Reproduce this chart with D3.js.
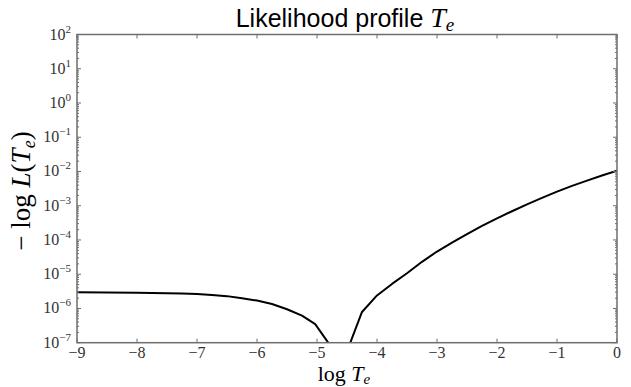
<!DOCTYPE html>
<html><head><meta charset="utf-8">
<script src="https://cdn.jsdelivr.net/npm/d3@7"></script>
<style>body{margin:0;background:#fff}</style></head>
<body>
<svg id="c" width="631" height="387" xmlns="http://www.w3.org/2000/svg"></svg>
<script>
// data
const logTe = [-9, -8.5, -8, -7.5, -7.25, -7, -6.75, -6.5, -6.25, -6, -5.75, -5.5, -5.25, -5.03, -4.8, -4.6, -4.45, -4.25, -4.0, -3.75, -3.5, -3.25, -3.0, -2.75, -2.5, -2.25, -2.0, -1.75, -1.5, -1.25, -1.0, -0.75, -0.5, -0.25, 0];
const negLogL = [2.95e-6, 2.93e-6, 2.88e-6, 2.80e-6, 2.72e-6, 2.63e-6, 2.48e-6, 2.29e-6, 2.0e-6, 1.70e-6, 1.35e-6, 9.5e-7, 6.2e-7, 3.5e-7, 9.3e-8, 1e-8, 9.5e-8, 7.9e-7, 2.4e-6, 5.2e-6, 1.07e-5, 2.3e-5, 4.6e-5, 8.3e-5, 1.48e-4, 2.57e-4, 4.27e-4, 6.9e-4, 1.10e-3, 1.70e-3, 2.57e-3, 3.8e-3, 5.4e-3, 7.6e-3, 1.05e-2];
const xTicks = [-9, -8, -7, -6, -5, -4, -3, -2, -1, 0];
const yTickExps = [-7, -6, -5, -4, -3, -2, -1, 0, 1, 2];

const L = 77, R = 617, T = 34.5, B = 342.7;
const svg = d3.select("#c");
const x = d3.scaleLinear().domain([-9, 0]).range([L, R]);
const y = d3.scaleLog().domain([1e-7, 1e2]).range([B, T]);
const axisCol = "#6e6e6e";
const serif = "'Liberation Serif', 'DejaVu Serif', serif";

svg.append("defs").append("clipPath").attr("id", "clip")
  .append("rect").attr("x", L).attr("y", T).attr("width", R - L).attr("height", B - T);

// curve
const pts = logTe.map((v, i) => [v, negLogL[i]]);
svg.append("path").datum(pts)
  .attr("clip-path", "url(#clip)")
  .attr("fill", "none").attr("stroke", "#000").attr("stroke-width", 2)
  .attr("stroke-linejoin", "round")
  .attr("d", d3.line().x(d => x(d[0])).y(d => y(d[1])));

// ticks (inward, all four sides)
const g = svg.append("g").attr("stroke", axisCol).attr("stroke-width", 1);
xTicks.forEach(t => {
  g.append("line").attr("x1", x(t)).attr("x2", x(t)).attr("y1", B).attr("y2", B - 4);
  g.append("line").attr("x1", x(t)).attr("x2", x(t)).attr("y1", T).attr("y2", T + 4);
});
yTickExps.forEach(e => {
  const yy = y(Math.pow(10, e));
  g.append("line").attr("x1", L).attr("x2", L + 4).attr("y1", yy).attr("y2", yy);
  g.append("line").attr("x1", R).attr("x2", R - 4).attr("y1", yy).attr("y2", yy);
  if (e < 2) {
    for (let m = 2; m <= 9; m++) {
      const ym = y(m * Math.pow(10, e));
      g.append("line").attr("x1", L).attr("x2", L + 2).attr("y1", ym).attr("y2", ym);
      g.append("line").attr("x1", R).attr("x2", R - 2).attr("y1", ym).attr("y2", ym);
    }
  }
});

// frame
svg.append("rect").attr("x", L).attr("y", T).attr("width", R - L).attr("height", B - T)
  .attr("fill", "none").attr("stroke", axisCol).attr("stroke-width", 1.5);

// x tick labels
xTicks.forEach(t => {
  svg.append("text").attr("x", x(t)).attr("y", B + 15.5)
    .attr("text-anchor", "middle").attr("font-family", serif).attr("font-size", 16)
    .attr("fill", "#333")
    .text(t < 0 ? "\u2212" + Math.abs(t) : String(t));
});

// y tick labels
yTickExps.forEach(e => {
  const yy = y(Math.pow(10, e));
  const tx = svg.append("text").attr("x", 71).attr("y", yy + 5)
    .attr("text-anchor", "end").attr("font-family", serif).attr("font-size", 16).attr("fill", "#333");
  tx.append("tspan").text("10");
  tx.append("tspan").attr("dy", -7).attr("font-size", 11)
    .text(e < 0 ? "\u2212" + Math.abs(e) : String(e));
});

// title
const title = svg.append("text").attr("x", 345).attr("y", 27).attr("text-anchor", "middle")
  .attr("font-family", "'Liberation Sans', Arial, sans-serif").attr("font-size", 25).attr("fill", "#000");
title.append("tspan").text("Likelihood profile ");
title.append("tspan").attr("font-family", serif).attr("font-style", "italic").attr("font-size", 28).text("T");
title.append("tspan").attr("font-family", serif).attr("font-style", "italic").attr("font-size", 19).attr("dy", 4).text("e");

// x label
const xl = svg.append("text").attr("x", 344).attr("y", 381).attr("text-anchor", "middle")
  .attr("font-family", serif).attr("font-size", 22).attr("fill", "#000");
xl.append("tspan").text("log ");
xl.append("tspan").attr("font-style", "italic").text("T");
xl.append("tspan").attr("font-style", "italic").attr("font-size", 15).attr("dy", 3).text("e");

// y label
const yl = svg.append("text").attr("transform", "translate(30,191) rotate(-90)").attr("text-anchor", "middle")
  .attr("font-family", serif).attr("font-size", 27).attr("fill", "#000");
yl.append("tspan").text("\u2212 log ");
yl.append("tspan").attr("font-style", "italic").text("L");
yl.append("tspan").text("(");
yl.append("tspan").attr("font-style", "italic").text("T");
yl.append("tspan").attr("font-style", "italic").attr("font-size", 18).attr("dy", 5).text("e");
yl.append("tspan").attr("dy", -5).text(")");
</script>
</body></html>
